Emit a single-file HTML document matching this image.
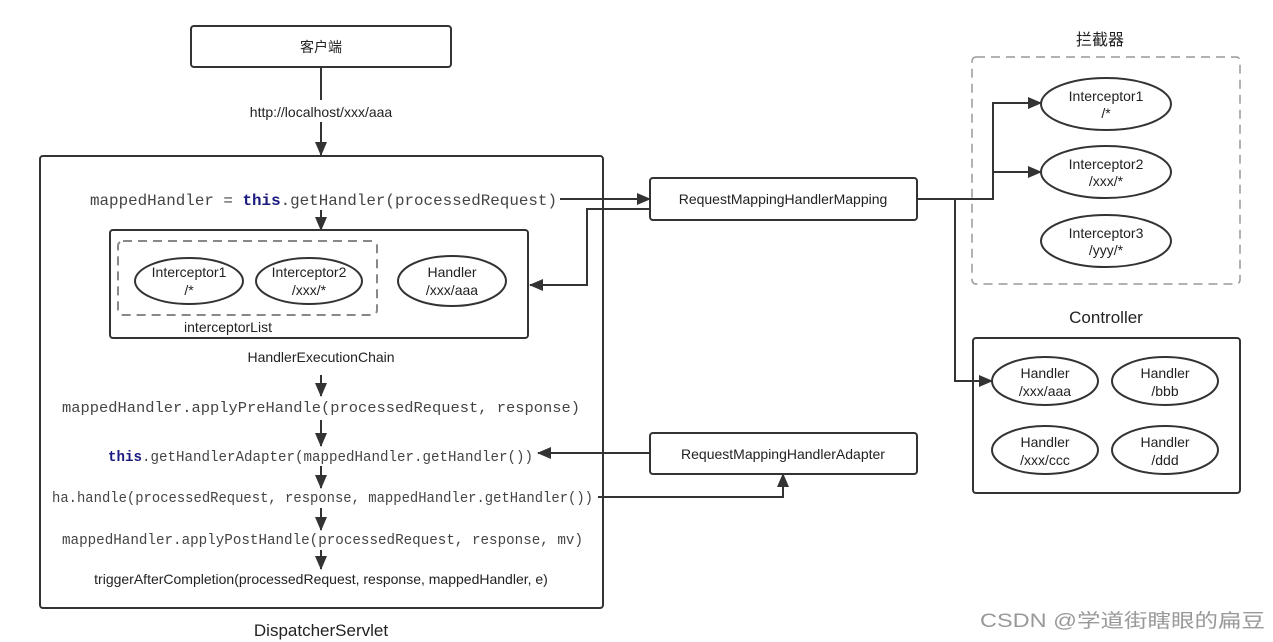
<!DOCTYPE html>
<html><head><meta charset="utf-8"><style>
html,body{margin:0;padding:0;background:#fff;}
svg{display:block;}
.s{font-family:"Liberation Sans","Noto Sans CJK SC",sans-serif;fill:#222;}
.m{font-family:"Liberation Mono",monospace;fill:#444;font-size:14.5px;}
.k{fill:#1a1a80;font-weight:bold;}
</style></head><body>
<svg width="1273" height="642" viewBox="0 0 1273 642" xmlns="http://www.w3.org/2000/svg">
<defs><marker id="b" markerWidth="14" markerHeight="12" refX="13" refY="6" orient="auto" markerUnits="userSpaceOnUse"><path d="M0,0 L14,6 L0,12 z" fill="#333"/></marker></defs>
<g fill="none" stroke="#333" stroke-width="2">
<rect x="191" y="26" width="260" height="41" rx="3"/>
<rect x="40" y="156" width="563" height="452" rx="3"/>
<rect x="110" y="230" width="418" height="108" rx="3"/>
<rect x="118" y="241" width="259" height="74" rx="5" stroke="#888" stroke-dasharray="9,6"/>
<ellipse cx="189" cy="281" rx="54" ry="23"/>
<ellipse cx="309" cy="281" rx="53" ry="23"/>
<ellipse cx="452" cy="281" rx="54" ry="25"/>
<rect x="650" y="178" width="267" height="42" rx="3"/>
<rect x="650" y="433" width="267" height="41" rx="3"/>
<rect x="972" y="57" width="268" height="227" rx="4" stroke="#999" stroke-width="1.5" stroke-dasharray="9,6"/>
<ellipse cx="1106" cy="104" rx="65" ry="26"/>
<ellipse cx="1106" cy="172" rx="65" ry="26"/>
<ellipse cx="1106" cy="241" rx="65" ry="26"/>
<rect x="973" y="338" width="267" height="155" rx="3"/>
<ellipse cx="1045" cy="381" rx="53" ry="24"/>
<ellipse cx="1165" cy="381" rx="53" ry="24"/>
<ellipse cx="1045" cy="450" rx="53" ry="24"/>
<ellipse cx="1165" cy="450" rx="53" ry="24"/>
<path d="M321 67 V155" marker-end="url(#b)"/>
<path d="M321 210 V230" marker-end="url(#b)"/>
<path d="M321 375 V396" marker-end="url(#b)"/>
<path d="M321 420 V446" marker-end="url(#b)"/>
<path d="M321 466 V488" marker-end="url(#b)"/>
<path d="M321 508 V530" marker-end="url(#b)"/>
<path d="M321 550 V569" marker-end="url(#b)"/>
<path d="M560 199 H650" marker-end="url(#b)"/>
<path d="M650 209 H587 V285 H530" marker-end="url(#b)"/>
<path d="M917 199 H993 V103 H1041" marker-end="url(#b)"/>
<path d="M993 172 H1041" marker-end="url(#b)"/>
<path d="M955 199 V381 H992" marker-end="url(#b)"/>
<path d="M650 453 H538" marker-end="url(#b)"/>
<path d="M598 497 H783 V474" marker-end="url(#b)"/>
</g>
<rect x="232" y="100" width="178" height="22" fill="#fff"/>
<g class="s" text-anchor="middle" font-size="14">
<text x="321" y="52">客户端</text>
<text x="321" y="117">http://localhost/xxx/aaa</text>
<text x="189" y="277">Interceptor1</text><text x="189" y="295">/*</text>
<text x="309" y="277">Interceptor2</text><text x="309" y="295">/xxx/*</text>
<text x="452" y="277">Handler</text><text x="452" y="295">/xxx/aaa</text>
<text x="228" y="332">interceptorList</text>
<text x="321" y="362">HandlerExecutionChain</text>
<text x="321" y="584">triggerAfterCompletion(processedRequest, response, mappedHandler, e)</text>
<text x="321" y="636" font-size="17">DispatcherServlet</text>
<text x="783" y="204">RequestMappingHandlerMapping</text>
<text x="783" y="459">RequestMappingHandlerAdapter</text>
<text x="1100" y="45" font-size="16">拦截器</text>
<text x="1106" y="101">Interceptor1</text><text x="1106" y="118">/*</text>
<text x="1106" y="169">Interceptor2</text><text x="1106" y="186">/xxx/*</text>
<text x="1106" y="238">Interceptor3</text><text x="1106" y="255">/yyy/*</text>
<text x="1106" y="323" font-size="17">Controller</text>
<text x="1045" y="378">Handler</text><text x="1045" y="396">/xxx/aaa</text>
<text x="1165" y="378">Handler</text><text x="1165" y="396">/bbb</text>
<text x="1045" y="447">Handler</text><text x="1045" y="465">/xxx/ccc</text>
<text x="1165" y="447">Handler</text><text x="1165" y="465">/ddd</text>
</g>
<text x="980" y="627" font-size="19" fill="#999" font-family="Liberation Sans,Noto Sans CJK SC,sans-serif" textLength="285" lengthAdjust="spacingAndGlyphs">CSDN @学道街瞎眼的扁豆</text>
<g class="m">
<text x="90" y="205" font-size="16" textLength="467" lengthAdjust="spacingAndGlyphs">mappedHandler = <tspan class="k">this</tspan>.getHandler(processedRequest)</text>
<text x="62" y="412" textLength="518" lengthAdjust="spacingAndGlyphs">mappedHandler.applyPreHandle(processedRequest, response)</text>
<text x="108" y="461" textLength="425" lengthAdjust="spacingAndGlyphs"><tspan class="k">this</tspan>.getHandlerAdapter(mappedHandler.getHandler())</text>
<text x="52" y="502" textLength="541" lengthAdjust="spacingAndGlyphs">ha.handle(processedRequest, response, mappedHandler.getHandler())</text>
<text x="62" y="544" textLength="521" lengthAdjust="spacingAndGlyphs">mappedHandler.applyPostHandle(processedRequest, response, mv)</text>
</g>
</svg>
</body></html>
